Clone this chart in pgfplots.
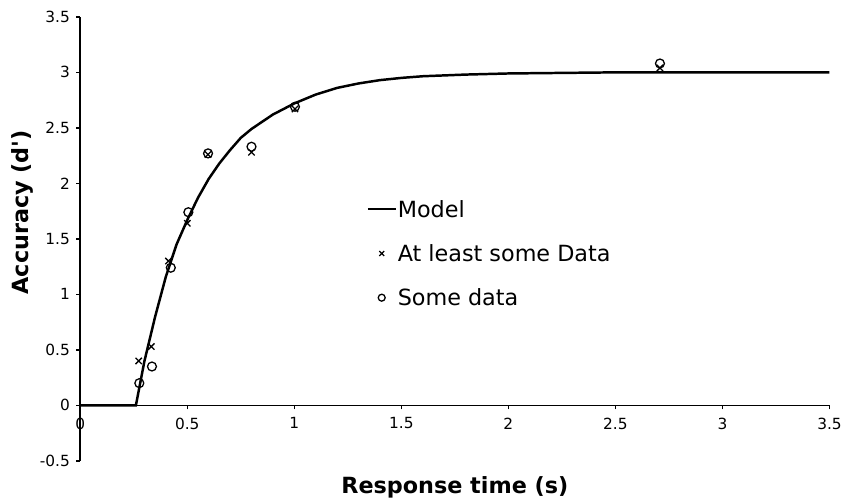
\documentclass[border=0pt]{standalone}
\usepackage{fontspec}
\setmainfont{DejaVu Sans}
\usepackage{pgfplots}
\pgfplotsset{compat=1.18}

\begin{document}
\begin{tikzpicture}
\begin{axis}[
    scale only axis,
    width=756pt, height=448pt,
    xmin=0, xmax=3.5, ymin=-0.5, ymax=3.5,
    axis lines*=middle,
    axis line style={line width=1.6pt},
    hide obscured x ticks=false,
    hide obscured y ticks=false,
    xtick={0,0.5,...,3.5},
    ytick={-0.5,0,...,3.5},
    tick align=outside,
    major tick length=4pt,
    tick style={line width=1.4pt, black},
    /pgf/number format/assume math mode=true,
    tick label style={font=\fontsize{15.5}{17}\selectfont},
    xticklabel style={yshift=-5pt},
    yticklabel style={xshift=-3pt},
    every axis x label/.style={at={(axis description cs:0.5,-0.034)}, anchor=north, inner sep=0pt, font=\fontsize{22.5}{26}\selectfont\bfseries},
    every axis y label/.style={at={(axis description cs:-0.0913,0.56)}, rotate=90, anchor=north, inner sep=0pt, font=\fontsize{22.5}{26}\selectfont\bfseries},
    xlabel={Response time (s)},
    ylabel={Accuracy (d\textquotesingle)},
    legend style={at={(axis description cs:0.382,0.59)}, anchor=north west,
        draw=none, fill=none, font=\fontsize{22.5}{26}\selectfont,
        row sep=24pt, inner sep=0pt, nodes={inner sep=1pt}},
    legend cell align=left,
    clip=false,
]

\path (rel axis cs:-0.1071,-0.087) rectangle (rel axis cs:1.0106,1.038);

% model
\addplot[black, line width=2.5pt,
    legend image code/.code={\draw[line width=2.4pt] (0pt,0pt) -- (28pt,0pt);}]
coordinates {
    (0,0) (0.26,0) (0.30,0.40) (0.35,0.80) (0.40,1.16) (0.45,1.45)
    (0.50,1.67) (0.55,1.87) (0.60,2.04) (0.65,2.18) (0.70,2.30)
    (0.75,2.41) (0.80,2.49) (0.90,2.62) (1.00,2.72) (1.10,2.80)
    (1.20,2.86) (1.30,2.90) (1.40,2.93) (1.50,2.95) (1.60,2.965)
    (1.80,2.98) (2.00,2.99) (2.25,2.995) (2.50,3.0) (3.00,3.0) (3.50,3.0)
};

% at least some data
\addplot[black, only marks, mark=x, mark size=4.5pt, line width=1.3pt,
    legend image code/.code={\draw[black, line width=1.3pt, mark=x, mark size=3.5pt] plot coordinates {(14pt,0pt)};}]
coordinates {
    (0.273,0.40) (0.332,0.53) (0.412,1.30) (0.50,1.64)
    (0.597,2.26) (0.80,2.28) (1.003,2.67) (2.708,3.04)
};

% some data
\addplot[black, only marks, mark=o, mark size=4.5pt, line width=1.3pt,
    legend image code/.code={\draw[black, line width=1.3pt, mark=o, mark size=3.5pt] plot coordinates {(14pt,0pt)};}]
coordinates {
    (0.276,0.20) (0.335,0.35) (0.423,1.24) (0.505,1.74)
    (0.597,2.27) (0.80,2.33) (1.003,2.69) (2.708,3.08)
};

\legend{Model, At least some Data, Some data}
\end{axis}
\end{tikzpicture}
\end{document}
